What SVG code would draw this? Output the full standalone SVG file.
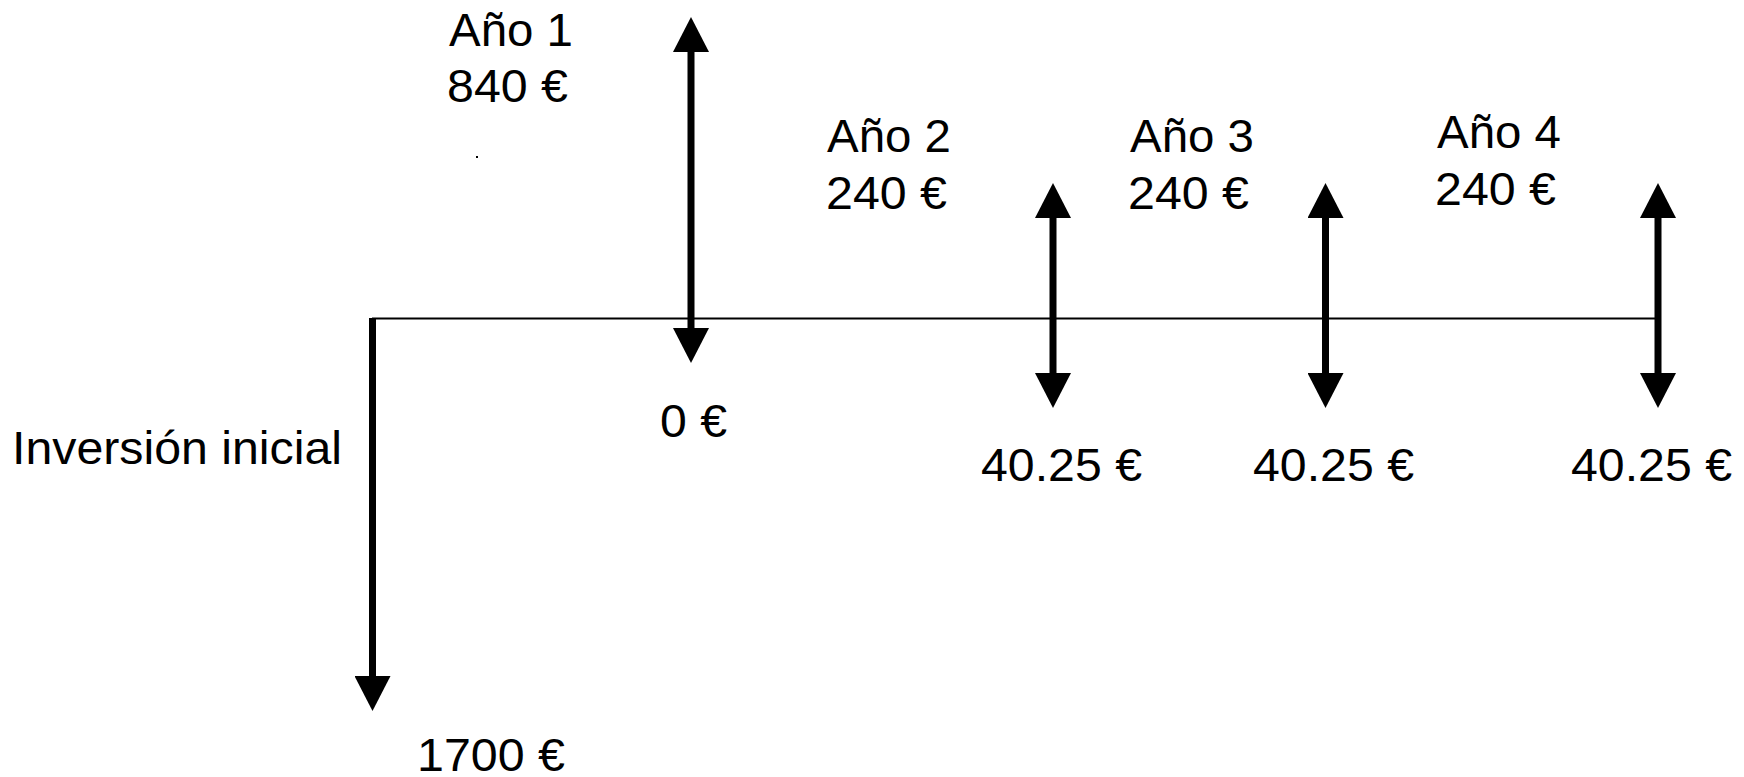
<svg xmlns="http://www.w3.org/2000/svg" width="1744" height="777" viewBox="0 0 1744 777">
<style>
text{font-family:"Liberation Sans",Arial,sans-serif;font-size:46px;fill:#000}
.axis{stroke:#000;stroke-width:2;fill:none}
.flow{stroke:#000;stroke-width:7;fill:none}
</style>
<defs>
<marker id="head" markerUnits="userSpaceOnUse" viewBox="0 0 35 36" markerWidth="35" markerHeight="36" refX="0" refY="18" orient="auto-start-reverse">
<path d="M0,0 L35,18 L0,36 z" fill="#000"/>
</marker>
</defs>
<rect width="1744" height="777" fill="#fff"/>
<g id="connectors">
<line class="axis" x1="372" y1="318.5" x2="1657" y2="318.5"/>
<line class="flow" x1="372.5" y1="318" x2="372.5" y2="676" marker-end="url(#head)"/>
<line class="flow" x1="691" y1="52" x2="691" y2="328" marker-start="url(#head)" marker-end="url(#head)"/>
<line class="flow" x1="1053" y1="218" x2="1053" y2="373" marker-start="url(#head)" marker-end="url(#head)"/>
<line class="flow" x1="1325.5" y1="218" x2="1325.5" y2="373" marker-start="url(#head)" marker-end="url(#head)"/>
<line class="flow" x1="1658" y1="218" x2="1658" y2="373" marker-start="url(#head)" marker-end="url(#head)"/>
</g>
<g id="inversion">
<text x="12" y="464" textLength="330" lengthAdjust="spacingAndGlyphs">Inversión inicial</text>
<text x="417" y="771" textLength="148" lengthAdjust="spacingAndGlyphs">1700 €</text>
</g>
<g id="ano1">
<text x="449" y="46" textLength="124" lengthAdjust="spacingAndGlyphs">Año 1</text>
<text x="447" y="102" textLength="121" lengthAdjust="spacingAndGlyphs">840 €</text>
<text x="660" y="437" textLength="67" lengthAdjust="spacingAndGlyphs">0 €</text>
<rect x="476" y="156" width="2" height="2" fill="#000"/>
</g>
<g id="ano2">
<text x="827" y="152" textLength="124" lengthAdjust="spacingAndGlyphs">Año 2</text>
<text x="826" y="209" textLength="121" lengthAdjust="spacingAndGlyphs">240 €</text>
<text x="981" y="481" textLength="161" lengthAdjust="spacingAndGlyphs">40.25 €</text>
</g>
<g id="ano3">
<text x="1130" y="152" textLength="124" lengthAdjust="spacingAndGlyphs">Año 3</text>
<text x="1128" y="209" textLength="121" lengthAdjust="spacingAndGlyphs">240 €</text>
<text x="1253" y="481" textLength="161" lengthAdjust="spacingAndGlyphs">40.25 €</text>
</g>
<g id="ano4">
<text x="1437" y="148" textLength="124" lengthAdjust="spacingAndGlyphs">Año 4</text>
<text x="1435" y="205" textLength="121" lengthAdjust="spacingAndGlyphs">240 €</text>
<text x="1571" y="481" textLength="161" lengthAdjust="spacingAndGlyphs">40.25 €</text>
</g>
</svg>
